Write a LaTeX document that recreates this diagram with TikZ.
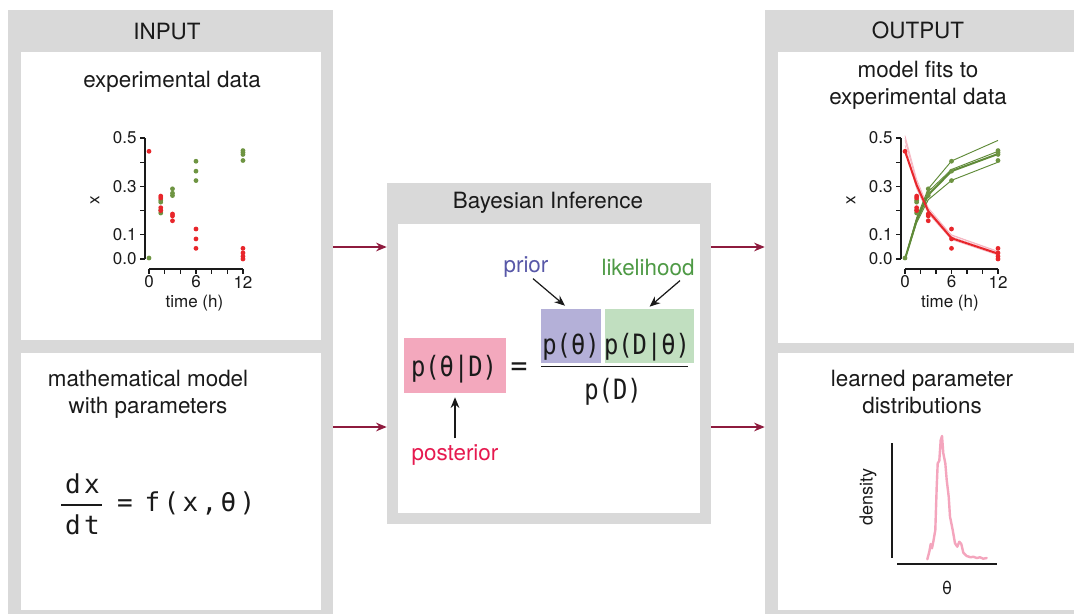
\documentclass[tikz,border=0pt]{standalone}
\usepackage{fontspec}
\setmainfont{TeX Gyre Heros}
\newfontfamily\eqfont{DejaVu Sans Mono}
\usetikzlibrary{arrows.meta,fit}

\definecolor{panelgray}{HTML}{D9D9D9}
\definecolor{flowred}{HTML}{8E1B3E}
\definecolor{postpink}{HTML}{F3A8BD}
\definecolor{priorlav}{HTML}{B4B0D8}
\definecolor{likegreen}{HTML}{C1DFC0}
\definecolor{priortext}{HTML}{5858A8}
\definecolor{liketext}{HTML}{4E9A45}
\definecolor{posttext}{HTML}{E6194F}
\definecolor{ptred}{HTML}{E8262B}
\definecolor{ptgreen}{HTML}{6E9442}
\definecolor{fitgreen}{HTML}{5F8A38}
\definecolor{bandpink}{HTML}{F6B3BF}
\definecolor{denspink}{HTML}{F4A5BD}
\definecolor{ink}{HTML}{1A1A1A}

% fixed-pitch cell for the spaced-out ODE
\newcommand\cell[1]{\makebox[14.25pt]{#1}}
% slightly condensed monospace for Bayes' rule
\newcommand\cond[1]{\scalebox{0.85}[1]{#1}}

% measured time courses: time/value
\def\reddata{0/0.445,1.5/0.26,1.5/0.252,1.5/0.212,1.5/0.2,3/0.186,3/0.178,3/0.158,6/0.124,6/0.083,6/0.044,12/0.044,12/0.025,12/0.011,12/0.0}
\def\greendata{0/0.004,1.5/0.243,1.5/0.235,1.5/0.202,1.5/0.19,3/0.29,3/0.272,3/0.262,6/0.404,6/0.363,6/0.324,12/0.448,12/0.44,12/0.432,12/0.407}

\begin{document}
\begin{tikzpicture}[x=0.75pt,y=-0.75pt,
  panel/.style={fill=panelgray, inner sep=0pt},
  sheet/.style={fill=white, inner sep=0pt},
  title/.style={font=\fontsize{16.8}{20.25}\selectfont, text=ink, inner sep=0pt, align=center},
  ticklbl/.style={font=\fontsize{12.75}{15}\selectfont, text=ink, inner sep=0pt},
  flow/.style={draw=flowred, line width=0.9pt, -{Stealth[length=8pt,width=6.5pt]}},
  ann/.style={draw=ink, line width=0.9pt, -{Stealth[length=8pt,width=6.5pt]}},
  frm/.style={font=\eqfont\fontsize{21}{24}\selectfont, text=ink, inner sep=0pt, anchor=base},
  ode/.style={font=\eqfont\fontsize{19.5}{22}\selectfont, text=ink, inner sep=0pt, anchor=base},
  axis/.style={draw=ink, line width=0.9pt},
]
\useasboundingbox (0,0) rectangle (1074,614);

% ---------- panels ----------
\node[panel, fit={(8,10) (333,614)}] (inPanel) {};
\node[sheet, fit={(21,52) (321,340)}] (dataBox) {};
\node[sheet, fit={(21,353) (321,610)}] (modelBox) {};
\node[panel, fit={(387,183) (711,524)}] (bayesPanel) {};
\node[sheet, fit={(398,224) (700,513)}] (bayesBox) {};
\node[panel, fit={(765,10) (1074,614)}] (outPanel) {};
\node[sheet, fit={(778,52) (1074,343)}] (fitBox) {};
\node[sheet, fit={(778,353) (1074,610)}] (distBox) {};

% ---------- headings ----------
\node[title] (inTitle) at (167,32) {INPUT};
\node[title] (outTitle) at (918,30) {OUTPUT};
\node[title] (bayesTitle) at (548,203) {Bayesian Inference};
\node[title] (dataTitle) at (172,82) {experimental data};
\node[title] (modelTitle) at (148,394.5) {mathematical model\\with parameters};
\node[title] (fitTitle) at (918,85.5) {model fits to\\experimental data};
\node[title] (distTitle) at (922,391.5) {learned parameter\\distributions};

% ---------- flow arrows ----------
\coordinate (rowA) at (0,247);
\coordinate (rowB) at (0,427);
\draw[flow] (inPanel.east |- rowA) -- (bayesPanel.west |- rowA);
\draw[flow] (inPanel.east |- rowB) -- (bayesPanel.west |- rowB);
\draw[flow] (bayesPanel.east |- rowA) -- (outPanel.west |- rowA);
\draw[flow] (bayesPanel.east |- rowB) -- (outPanel.west |- rowB);

% ---------- ODE ----------
\node[ode] (odeNum) at (82.5,493) {\cell{d}\cell{x}};
\node[ode] (odeDen) at (82.5,534) {\cell{d}\cell{t}};
\coordinate (odeBarL) at (61,505);
\coordinate (odeBarR) at (102,505);
\draw[ink, line width=0.9pt] (odeBarL) -- (odeBarR);
\node[ode] (odeEq) at (125,511) {=};
\node[ode] (odeRhs) at (200,511) {\cell{f}\cell{(}\cell{x}\cell{,}\cell{θ}\cell{)}};

% ---------- Bayes rule ----------
\node[fill=postpink, inner sep=0pt, fit={(404,338) (506,393)}] (postBox) {};
\node[fill=priorlav, inner sep=0pt, fit={(541,309) (601,363)}] (priorBox) {};
\node[fill=likegreen, inner sep=0pt, fit={(605,309) (694,363)}] (likeBox) {};
\node[frm] (postTxt) at (454,376) {\cond{p(θ|D)}};
\node[frm] (eqSign) at (519,375) {=};
\node[frm] (priorTxt) at (571,354.5) {\cond{p(θ)}};
\node[frm] (likeTxt) at (647,354.5) {\cond{p(D|θ)}};
\node[frm] (evidTxt) at (613,399) {\cond{p(D)}};
\coordinate (fracL) at (541,366.5);
\coordinate (fracR) at (688,366.5);
\draw[ink, line width=0.9pt] (fracL) -- (fracR);

\node[title, text=priortext] (priorLbl) at (526,267) {prior};
\node[title, text=liketext] (likeLbl) at (648,267) {likelihood};
\node[title, text=posttext] (postLbl) at (455,455) {posterior};
\draw[ann] ([shift={(7,1)}]priorLbl.south) -- ([shift={(-6,-3)}]priorBox.north);
\draw[ann] ([shift={(32,5)}]likeLbl.south) -- ([shift={(0,-2)}]likeBox.north);
\draw[ann] ([shift={(0,-6)}]postLbl.north) -- ([shift={(0,4)}]postBox.south);

% ---------- time-course axes ----------
\newcommand\courseaxes[3]{% prefix, y-axis position (h), label offset (h)
  \draw[axis] (#2,0) -- (#2,0.5);
  \foreach \v in {0,0.1,0.2,0.3,0.4,0.5}
    \draw[axis] (#2,\v) -- ++(-3.75pt,0);
  \draw[axis] (0,-0.0413) -- (12,-0.0413);
  \foreach \t in {0,2,...,12}
    \draw[axis] (\t,-0.0413) -- ++(0,-3.75pt);
  \foreach \v/\lab in {0/0.0,0.1/0.1,0.3/0.3,0.5/0.5}
    \node[ticklbl, anchor=east] (#1y\v) at (#2-1.05,\v) {\lab};
  \foreach \t in {0,6,12}
    \node[ticklbl] (#1x\t) at (\t,-0.095) {\t};
  \node[ticklbl, rotate=90] (#1ylab) at (#3,0.244) {x};
  \node[ticklbl] (#1xlab) at (5.8,-0.182) {time (h)};
}

% data only
\begin{scope}[shift={(149,259)}, x=5.8725pt, y=181.5pt]
  \courseaxes{L}{-0.51}{-6.9}
  \foreach \t/\v in \greendata \fill[ptgreen] (\t,\v) circle[radius=1.8pt];
  \foreach \t/\v in \reddata \fill[ptred] (\t,\v) circle[radius=1.8pt];
\end{scope}

% data with fitted trajectories
\begin{scope}[shift={(905,259)}, x=5.8125pt, y=181.5pt]
  \courseaxes{R}{-0.52}{-6.97}
  \begin{scope}[bandpink, line width=0.5pt]
    \draw (0,0.51) -- (1.5,0.33) -- (3,0.212) -- (6,0.098) -- (12,0.03);
    \draw (0,0.49) -- (1.5,0.32) -- (3,0.205) -- (6,0.092) -- (12,0.026);
    \draw (0,0.47) -- (1.5,0.30) -- (3,0.195) -- (6,0.084) -- (12,0.02);
    \draw (0,0.455) -- (1.5,0.29) -- (3,0.188) -- (6,0.08) -- (12,0.016);
    \draw (0,0.50) -- (1.5,0.315) -- (3,0.2) -- (6,0.1) -- (12,0.032);
  \end{scope}
  \draw[fitgreen, line width=0.7pt] (0,0) -- (1.5,0.17) -- (3,0.29) -- (6,0.405) -- (12,0.49);
  \draw[fitgreen, line width=0.7pt] (0,0) -- (1.5,0.15) -- (3,0.245) -- (6,0.325) -- (12,0.40);
  \draw[fitgreen, line width=0.7pt] (0,0) -- (1.5,0.165) -- (3,0.278) -- (6,0.37) -- (12,0.445);
  \draw[fitgreen, line width=1.5pt, line join=round] (0,0) -- (1.5,0.16) -- (3,0.265) -- (6,0.363) -- (12,0.434);
  \draw[ptred, line width=1.5pt, line join=round] (0,0.445) -- (1.5,0.305) -- (3,0.198) -- (6,0.086) -- (12,0.022);
  \foreach \t/\v in \greendata \fill[ptgreen] (\t,\v) circle[radius=1.8pt];
  \foreach \t/\v in \reddata \fill[ptred] (\t,\v) circle[radius=1.8pt];
\end{scope}

% ---------- posterior density ----------
\draw[axis] (892,443) -- (892,558);
\draw[axis] (897,564) -- (997,564);
\node[ticklbl, font=\fontsize{13.5}{15}\selectfont, rotate=90] (densLbl) at (868,497) {density};
\node[ticklbl, font=\fontsize{13.5}{15}\selectfont] (thetaLbl) at (947,588) {θ};
\draw[denspink, line width=1.8pt, line join=round, line cap=round] plot coordinates {
  (927.3,559.3) (929.3,551.7) (930.7,544) (932,548.3) (933.3,541.7) (935.3,530)
  (936.7,486.7) (937.7,463.3) (939.3,460.7) (940.7,440) (942,436) (943.3,453.3)
  (945.3,463.3) (946.7,480) (948.7,496.7) (950,516.7) (952.7,530) (955,543.3)
  (957.3,546.7) (959.3,541.7) (961.3,544) (963.3,552.7) (966.7,556) (970.7,557.3)
  (973.3,556.7) (976.7,558) (980,557.3) (983.3,558.7) (986.7,558)};
\end{tikzpicture}
\end{document}
